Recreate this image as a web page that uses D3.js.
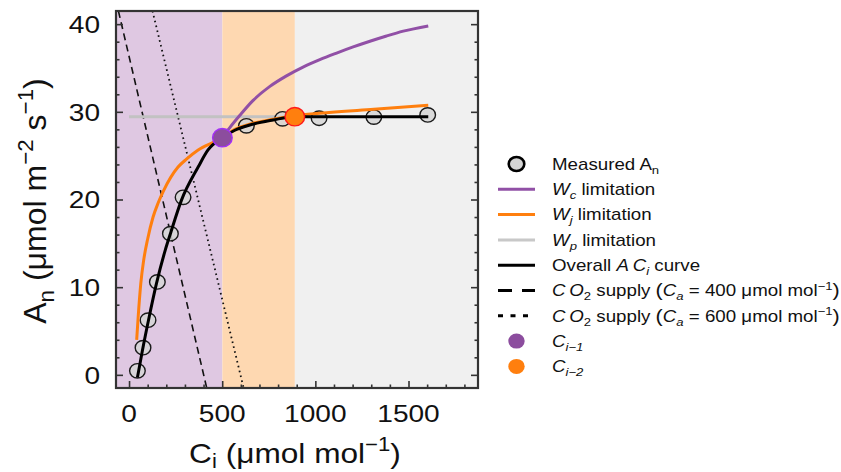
<!DOCTYPE html>
<html><head><meta charset="utf-8">
<script src="https://cdn.jsdelivr.net/npm/d3@7"></script>
<style>
body{margin:0;background:#fff;}
svg{display:block;font-family:"Liberation Sans",Arial,Helvetica,sans-serif;}
</style>
</head><body>
<svg id="c" width="841" height="472"></svg>
<script>
// ---------- data ----------
const measuredCi = [45, 75, 102, 152, 222, 290, 630, 824, 1020, 1314, 1603];
const measuredA  = [0.46, 3.1, 6.24, 10.6, 16.1, 20.25, 28.4, 29.2, 29.27, 29.4, 29.65];

const wcCi = [501, 541, 595, 666, 756, 845, 934, 1024, 1114, 1203, 1293, 1382, 1472, 1606];
const wcA  = [27.05, 28.2, 29.6, 31.3, 32.9, 34.1, 35.1, 35.95, 36.7, 37.4, 38.05, 38.65, 39.2, 39.8];

const wjCi = [41, 49, 63, 78, 100, 129, 156, 183, 263, 308, 371, 460, 501, 568, 648, 773, 890, 1020, 1314, 1606];
const wjA  = [4.0, 6.6, 10.4, 13.0, 15.5, 18.0, 19.6, 20.9, 23.7, 24.6, 25.65, 26.6, 27.05, 28.0, 28.6, 29.15, 29.55, 29.83, 30.3, 30.75];

const wpCi = [0, 890];
const wpA  = [29.45, 29.45];

const overallCi = [45, 72, 108, 147, 194, 222, 281, 371, 424, 501, 568, 648, 773, 890, 1100, 1300, 1606];
const overallA  = [-0.3, 2.8, 6.6, 10.4, 14.2, 16.1, 19.9, 23.7, 25.65, 27.05, 27.9, 28.5, 29.07, 29.45, 29.45, 29.45, 29.45];

const supply400Ci = [-57, 417];
const supply400A  = [41.5, -1.5];
const supply600Ci = [126, 615];
const supply600A  = [41.5, -1.5];

const ci1 = [501, 27.05];
const ci2 = [890, 29.45];

const xTicks = [0, 500, 1000, 1500];
const yTicks = [0, 10, 20, 30, 40];
const xDomain = [-70, 1873];
const yDomain = [-1.5, 41.5];

// ---------- setup ----------
const svg = d3.select('#c');
const x = d3.scaleLinear().domain(xDomain).range([116, 478]);
const y = d3.scaleLinear().domain(yDomain).range([388, 11]);
const zip = (a, b) => a.map((v, i) => [v, b[i]]);
const line = d3.line().x(d => x(d[0])).y(d => y(d[1])).curve(d3.curveMonotoneX);
const straight = d3.line().x(d => x(d[0])).y(d => y(d[1]));

svg.append('defs').append('clipPath').attr('id', 'clip')
  .append('rect').attr('x', 116).attr('y', 11).attr('width', 362).attr('height', 377);

const plot = svg.append('g').attr('clip-path', 'url(#clip)');

// background regions
const regions = [
  [xDomain[0], ci1[0], '#dfc8e2'],
  [ci1[0], ci2[0], '#fed8b1'],
  [ci2[0], xDomain[1], '#f0f0f0']
];
plot.selectAll('rect.reg').data(regions).join('rect').attr('class', 'reg')
  .attr('x', d => x(d[0])).attr('y', y(yDomain[1]))
  .attr('width', d => x(d[1]) - x(d[0])).attr('height', y(yDomain[0]) - y(yDomain[1]))
  .attr('fill', d => d[2]);

// supply lines
plot.append('path').datum(zip(supply400Ci, supply400A)).attr('d', straight)
  .attr('fill', 'none').attr('stroke', '#111').attr('stroke-width', 1.6).attr('stroke-dasharray', '7,4.5');
plot.append('path').datum(zip(supply600Ci, supply600A)).attr('d', straight)
  .attr('fill', 'none').attr('stroke', '#111').attr('stroke-width', 1.8).attr('stroke-dasharray', '1.6,3.4');

// Wp
plot.append('path').datum(zip(wpCi, wpA)).attr('d', straight)
  .attr('fill', 'none').attr('stroke', '#c2c2c2').attr('stroke-width', 3);

// measured circles (under lines)
plot.selectAll('ellipse.m').data(zip(measuredCi, measuredA)).join('ellipse').attr('class', 'm')
  .attr('cx', d => x(d[0])).attr('cy', d => y(d[1])).attr('rx', 7.8).attr('ry', 7.2)
  .attr('fill', '#d6d6d6').attr('fill-opacity', 0.85).attr('stroke', '#1a1a1a').attr('stroke-width', 1.4);

// Wc
plot.append('path').datum(zip(wcCi, wcA)).attr('d', line)
  .attr('fill', 'none').attr('stroke', '#9150a6').attr('stroke-width', 3);
// Wj
plot.append('path').datum(zip(wjCi, wjA)).attr('d', line)
  .attr('fill', 'none').attr('stroke', '#ff7f0e').attr('stroke-width', 3);
// overall
plot.append('path').datum(zip(overallCi, overallA)).attr('d', line)
  .attr('fill', 'none').attr('stroke', '#000').attr('stroke-width', 3);

// Ci points
plot.append('ellipse').attr('cx', x(ci1[0])).attr('cy', y(ci1[1])).attr('rx', 9.8).attr('ry', 9.2)
  .attr('fill', '#8c4d9e').attr('stroke', '#a330f5').attr('stroke-width', 1.4);
plot.append('ellipse').attr('cx', x(ci2[0])).attr('cy', y(ci2[1])).attr('rx', 9.8).attr('ry', 9.2)
  .attr('fill', '#ff7f0e').attr('stroke', '#ff1a1a').attr('stroke-width', 1.4);

// ---------- axes ----------
const axCol = '#333';
function styleAxis(g) {
  g.select('.domain').remove();
  g.selectAll('line').attr('stroke', axCol).attr('stroke-width', 1.6);
  g.selectAll('text').remove();
}
svg.append('g').attr('transform', 'translate(0,388)')
  .call(d3.axisBottom(x).tickValues(xTicks).tickSizeInner(-7).tickSizeOuter(0)).call(styleAxis);
svg.append('g').attr('transform', 'translate(0,388)')
  .call(d3.axisBottom(x).tickValues(d3.range(0, 1801, 100).filter(v => v % 500)).tickSizeInner(-3.5).tickSizeOuter(0)).call(styleAxis);
svg.append('g').attr('transform', 'translate(116,0)')
  .call(d3.axisLeft(y).tickValues(yTicks).tickSizeInner(-7).tickSizeOuter(0)).call(styleAxis);
svg.append('g').attr('transform', 'translate(116,0)')
  .call(d3.axisLeft(y).tickValues(d3.range(0, 41, 2).filter(v => v % 10)).tickSizeInner(-3.5).tickSizeOuter(0)).call(styleAxis);
svg.append('g').attr('transform', 'translate(478,0)')
  .call(d3.axisRight(y).tickValues(yTicks).tickSizeInner(-7).tickSizeOuter(0)).call(styleAxis);
svg.append('g').attr('transform', 'translate(478,0)')
  .call(d3.axisRight(y).tickValues(d3.range(0, 41, 2).filter(v => v % 10)).tickSizeInner(-3.5).tickSizeOuter(0)).call(styleAxis);

svg.append('rect').attr('x', 116).attr('y', 11).attr('width', 362).attr('height', 377)
  .attr('fill', 'none').attr('stroke', axCol).attr('stroke-width', 2.2);

const SX = 1.17;
svg.selectAll('text.xt').data(xTicks).join('text').attr('class', 'xt')
  .attr('transform', d => `translate(${x(d)},421.5) scale(${SX},1)`)
  .attr('text-anchor', 'middle').attr('font-size', 24).attr('fill', '#111').text(d => d);
svg.selectAll('text.yt').data(yTicks).join('text').attr('class', 'yt')
  .attr('transform', d => `translate(100,${y(d) + 8.7}) scale(${SX},1)`)
  .attr('text-anchor', 'end').attr('font-size', 24).attr('fill', '#111').text(d => d);

// rich text helper
function rich(sel, parts, fs) {
  let cur = 0;
  parts.forEach(p => {
    const ts = sel.append('tspan').text(p.t);
    const off = p.sub ? fs * (p.subOff || 0.25) : p.sup ? -fs * 0.4 : 0;
    ts.attr('dy', off - cur); cur = off;
    if (p.sub || p.sup) ts.attr('font-size', fs * 0.7);
    if (p.big) ts.attr('font-size', fs * p.big);
    if (p.i) ts.attr('font-style', 'italic');
  });
}

// axis titles
const xl = svg.append('text').attr('transform', `translate(295,462.5) scale(1.13,1)`)
  .attr('text-anchor', 'middle').attr('font-size', 28).attr('fill', '#111');
rich(xl, [{t: 'C'}, {t: 'i', sub: true, subOff: 0.2}, {t: ' ('}, {t: 'μmol mol'}, {t: '−1', sup: true}, {t: ')'}], 28);

const yl = svg.append('text').attr('transform', `translate(46,201) rotate(-90)`)
  .attr('text-anchor', 'middle').attr('font-size', 32).attr('fill', '#111');
rich(yl, [{t: 'A'}, {t: 'n', sub: true}, {t: ' (μmol m'}, {t: '−2', sup: true}, {t: ' s'}, {t: '−1', sup: true}, {t: ')'}], 32);

// ---------- legend ----------
const legend = [
  {type: 'circle', parts: [{t: 'Measured A'}, {t: 'n', sub: true}]},
  {type: 'line', color: '#9150a6', parts: [{t: 'W', i: true}, {t: 'c', sub: true, i: true}, {t: ' limitation'}]},
  {type: 'line', color: '#ff7f0e', parts: [{t: 'W', i: true}, {t: 'j', sub: true, i: true}, {t: ' limitation'}]},
  {type: 'line', color: '#c8c8c8', parts: [{t: 'W', i: true}, {t: 'p', sub: true, i: true}, {t: ' limitation'}]},
  {type: 'line', color: '#000', parts: [{t: 'Overall '}, {t: 'A\u2009C', i: true}, {t: 'i', sub: true, i: true}, {t: ' curve'}]},
  {type: 'line', color: '#000', dash: '14,10', parts: [{t: 'C\u2009O', i: true}, {t: '2', sub: true}, {t: ' supply '}, {t: '(', big: 1.15}, {t: 'C', i: true}, {t: 'a', sub: true, i: true}, {t: ' = 400 μmol mol'}, {t: '−1', sup: true}, {t: ')', big: 1.15}]},
  {type: 'line', color: '#000', dash: '5,7.5', parts: [{t: 'C\u2009O', i: true}, {t: '2', sub: true}, {t: ' supply '}, {t: '(', big: 1.15}, {t: 'C', i: true}, {t: 'a', sub: true, i: true}, {t: ' = 600 μmol mol'}, {t: '−1', sup: true}, {t: ')', big: 1.15}]},
  {type: 'dot', color: '#8c4d9e', parts: [{t: 'C', i: true}, {t: 'i−1', sub: true, i: true}]},
  {type: 'dot', color: '#ff7f0e', parts: [{t: 'C', i: true}, {t: 'i−2', sub: true, i: true}]}
];
const lg = svg.append('g');
legend.forEach((d, i) => {
  const cy = 164 + i * 25.3;
  if (d.type === 'circle') {
    lg.append('ellipse').attr('cx', 516.5).attr('cy', cy).attr('rx', 7.8).attr('ry', 7)
      .attr('fill', '#d4d4d4').attr('stroke', '#000').attr('stroke-width', 2.6);
  } else if (d.type === 'dot') {
    lg.append('ellipse').attr('cx', 516.5).attr('cy', cy).attr('rx', 8.2).attr('ry', 7.5).attr('fill', d.color);
  } else {
    lg.append('line').attr('x1', 498).attr('x2', 535).attr('y1', cy).attr('y2', cy)
      .attr('stroke', d.color).attr('stroke-width', 3).attr('stroke-dasharray', d.dash || null);
  }
  const t = lg.append('text').attr('transform', `translate(552,${cy + 5.8}) scale(${SX},1)`)
    .attr('font-size', 16).attr('fill', '#111');
  rich(t, d.parts, 16);
});
</script>
</body></html>
